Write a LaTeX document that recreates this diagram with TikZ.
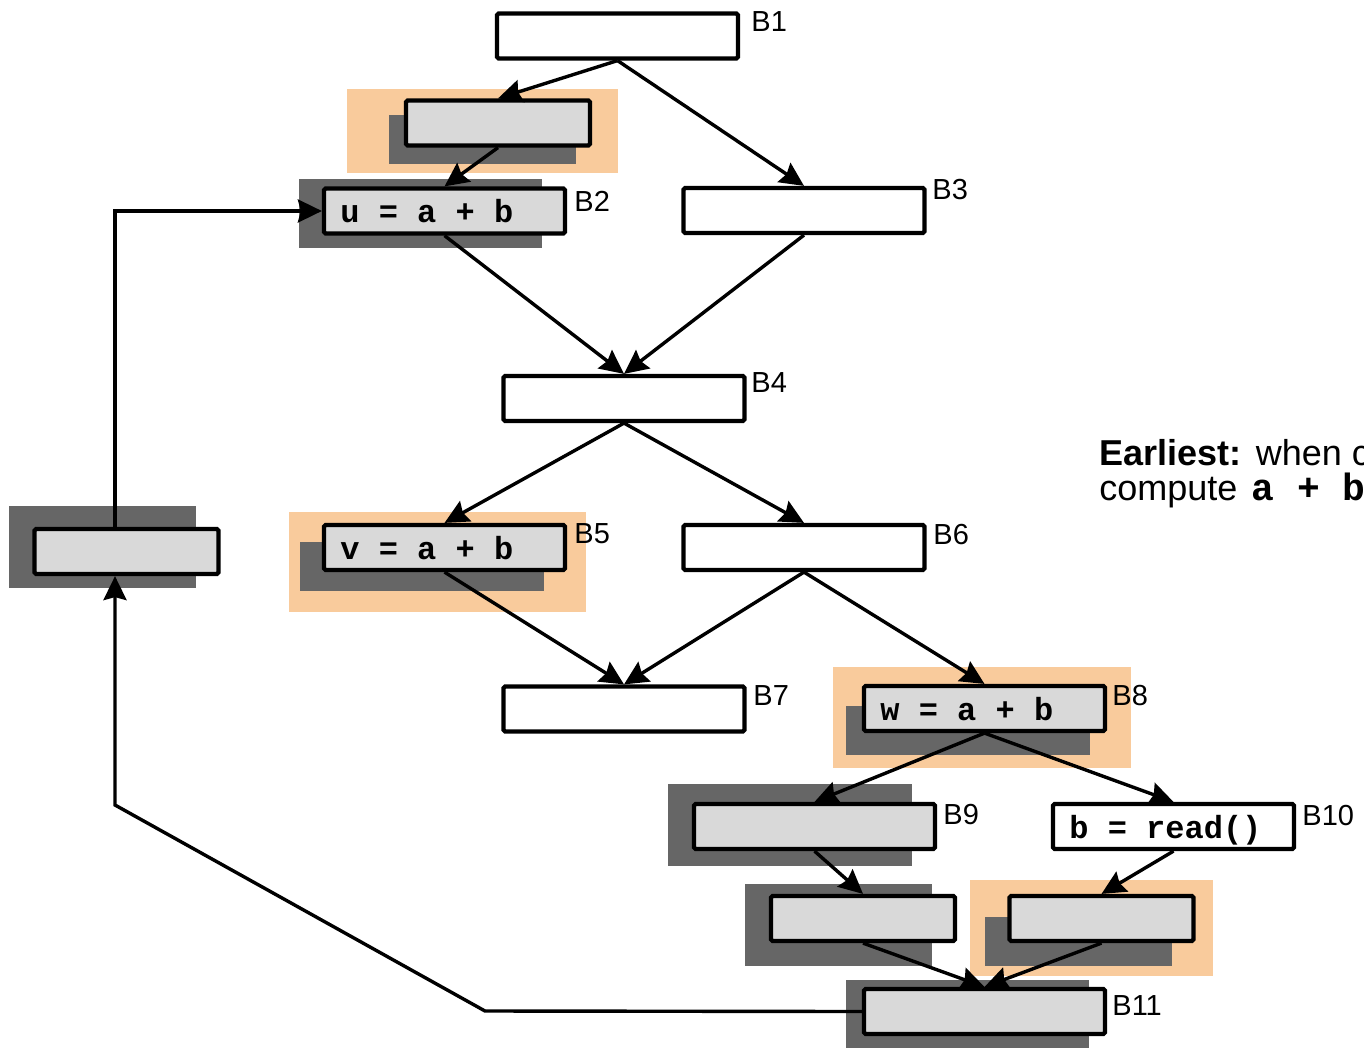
\documentclass[tikz,border=0pt]{standalone}
\usepackage{fontspec}
\setmainfont{Liberation Sans}
\setmonofont{Liberation Mono}
\usetikzlibrary{arrows.meta}
\definecolor{boxgray}{HTML}{D9D9D9}
\definecolor{shadowgray}{HTML}{666666}
\definecolor{peach}{HTML}{F9CB9C}
\tikzset{
  blk/.style={draw=black, line width=2.1pt, rounded corners=0.8pt,
    minimum width=120.5pt, minimum height=22.5pt, inner sep=0pt, fill=white},
  small/.style={blk, minimum width=92pt},
  grayblk/.style={fill=boxgray},
  code/.style={font=\fontsize{16}{18}\selectfont\ttfamily\bfseries, inner sep=0pt, anchor=base west},
  lbl/.style={font=\fontsize{14.5}{16}\selectfont, inner sep=0pt, anchor=base west},
  note/.style={font=\fontsize{18}{19}\selectfont, inner sep=0pt, anchor=base west},
  flow/.style={line width=1.7pt, -{Stealth[length=12pt,width=11.5pt,inset=1.5pt]}},
}
\begin{document}
\begin{tikzpicture}[x=0.5pt,y=-0.5pt]
\clip (0,0) rectangle (1364,1048);
\fill[white] (0,0) rectangle (1364,1048);

% highlighted regions
\fill[peach] (347,89) rectangle (618,173);
\fill[peach] (289,512) rectangle (586,612);
\fill[peach] (833,667) rectangle (1131,768);
\fill[peach] (970,880) rectangle (1213,976);

% shadows behind the grey blocks
\fill[shadowgray] (389,115) rectangle (576,164);
\fill[shadowgray] (299,179) rectangle (542,248);
\fill[shadowgray] (300,542) rectangle (544,591);
\fill[shadowgray] (846,706) rectangle (1090,755);
\fill[shadowgray] (668,784) rectangle (912,866);
\fill[shadowgray] (745,884) rectangle (932,966);
\fill[shadowgray] (985,917) rectangle (1172,966);
\fill[shadowgray] (846,980) rectangle (1089,1048);
\fill[shadowgray] (9,506) rectangle (196,588);

% basic blocks
\node[blk] (B1) at (617.5,36) {};
\node[small, grayblk] (T) at (498,123) {};
\node[blk, grayblk] (B2) at (444.5,211) {};
\node[blk] (B3) at (804,210.5) {};
\node[blk] (B4) at (624,398.5) {};
\node[blk, grayblk] (B5) at (444.5,547.5) {};
\node[blk] (B6) at (804,547.5) {};
\node[blk] (B7) at (624,709) {};
\node[blk, grayblk] (B8) at (984.5,708.5) {};
\node[blk, grayblk] (B9) at (814.5,826.5) {};
\node[blk] (B10) at (1173.5,826.5) {};
\node[small, grayblk] (S9) at (863,918.5) {};
\node[small, grayblk] (S10) at (1101.5,918.5) {};
\node[blk, grayblk] (B11) at (984.5,1011.5) {};
\node[small, grayblk] (L) at (126.5,551.5) {};

% statements
\node[code] (cu) at (340,222) {u = a + b};
\node[code] (cv) at (340,559) {v = a + b};
\node[code] (cw) at (880,720) {w = a + b};
\node[code] (cb) at (1069,838) {b = read()};

% block labels
\node[lbl] (l1) at (751,32) {B1};
\node[lbl] (l2) at (574,212) {B2};
\node[lbl] (l3) at (932,199) {B3};
\node[lbl] (l4) at (751,392) {B4};
\node[lbl] (l5) at (574,543) {B5};
\node[lbl] (l6) at (933,544) {B6};
\node[lbl] (l7) at (753,705) {B7};
\node[lbl] (l8) at (1112,705) {B8};
\node[lbl] (l9) at (943,824) {B9};
\node[lbl] (l10) at (1302,825) {B10};
\node[lbl] (l11) at (1112,1015) {B11};

% note
\node[note] (n1) at (1099,465) {\textbf{Earliest:}\hspace{0.5pt} when c};
\node[note] (n2) at (1099,500) {compute\hspace{2pt} {\fontsize{19}{20}\selectfont\ttfamily\bfseries a + b}};

% control flow
\draw[flow] (B1.south) -- (T.north);
\draw[flow] (B1.south) -- (B3.north);
\draw[flow] (T.south) -- (B2.north);
\draw[flow] (B2.south) -- (B4.north);
\draw[flow] (B3.south) -- (B4.north);
\draw[flow] (B4.south) -- (B5.north);
\draw[flow] (B4.south) -- (B6.north);
\draw[flow] (B5.south) -- (B7.north);
\draw[flow] (B6.south) -- (B7.north);
\draw[flow] (B6.south) -- (B8.north);
\draw[flow] (B8.south) -- (B9.north);
\draw[flow] (B8.south) -- (B10.north);
\draw[flow] (B9.south) -- (S9.north);
\draw[flow] (B10.south) -- (S10.north);
\draw[flow] (S9.south) -- (B11.north);
\draw[flow] (S10.south) -- (B11.north);

% back edge through the left block
\coordinate (k1) at (485,1011);
\coordinate (k2) at (115,805);
\coordinate (k3) at (115,527);
\draw[flow] (B11.west) -- (k1) -- (k2) -- (k2 |- L.south);
\draw[flow] (k3 |- L.north) |- (B2.west);
\end{tikzpicture}
\end{document}
